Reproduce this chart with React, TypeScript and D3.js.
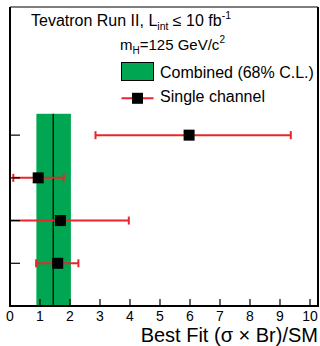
import React from "react";
import * as d3 from "d3";

const channels = ["H→bb", "H→ττ", "H→WW", "H→γγ"];
const centralValues = [1.59, 1.68, 0.94, 5.97];
const lowerValues = [0.87, 0.0, 0.11, 2.85];
const upperValues = [2.28, 3.96, 1.79, 9.36];
const combined = { center: 1.44, low: 0.88, high: 2.03 };
const xTicks = [0, 1, 2, 3, 4, 5, 6, 7, 8, 9, 10];

const W = 320;
const H = 346;
const left = 10;
const right = 318;
const top = 7;
const bottom = 306;

export default function App() {
  const x = d3.scaleLinear().domain([0, (right - left) / 30]).range([left, right]);
  const y = d3.scaleLinear().domain([0, 7]).range([bottom, top]);
  const font = "'Liberation Sans', Arial, Helvetica, sans-serif";
  const red = "#e8262b";
  const green = "#00a651";
  return (
    <svg width={W} height={H} style={{ position: "absolute", left: 0, top: 0 }} fontFamily={font}>
      <rect x={0} y={0} width={W} height={H} fill="#fff" />
      {/* combined band */}
      <rect x={x(combined.low)} y={y(4.5)} width={x(combined.high) - x(combined.low)} height={y(0) - y(4.5)} fill={green} />
      <line x1={x(combined.center)} x2={x(combined.center)} y1={y(4.5)} y2={y(0)} stroke="#000" strokeWidth={1.2} />
      {/* single channels */}
      {channels.map((c, i) => {
        const yy = y(i + 1);
        return (
          <g key={c}>
            <line x1={x(lowerValues[i])} x2={x(upperValues[i])} y1={yy} y2={yy} stroke={red} strokeWidth={2} />
            <line x1={x(lowerValues[i])} x2={x(lowerValues[i])} y1={yy - 4} y2={yy + 4} stroke={red} strokeWidth={2} />
            <line x1={x(upperValues[i])} x2={x(upperValues[i])} y1={yy - 4} y2={yy + 4} stroke={red} strokeWidth={2} />
            <rect x={x(centralValues[i]) - 5.5} y={yy - 5.5} width={11} height={11} fill="#000" />
          </g>
        );
      })}
      {/* y ticks */}
      {channels.map((c, i) => (
        <line key={"yt" + c} x1={left} x2={left + 10} y1={y(i + 1)} y2={y(i + 1)} stroke="#000" strokeWidth={1.2} />
      ))}
      {/* x ticks */}
      {xTicks.map((t) => (
        <g key={"xt" + t}>
          <line x1={x(t)} x2={x(t)} y1={bottom} y2={bottom - 7} stroke="#000" strokeWidth={1.2} />
          <text x={x(t)} y={321} fontSize={14} textAnchor="middle" fill="#000">{t}</text>
        </g>
      ))}
      {/* frame */}
      <line x1={left} x2={right} y1={top} y2={top} stroke="#000" strokeWidth={1} />
      <line x1={left} x2={left} y1={top} y2={bottom} stroke="#000" strokeWidth={2} />
      <line x1={right} x2={right} y1={top} y2={bottom} stroke="#000" strokeWidth={2} />
      <line x1={left - 1} x2={right + 1} y1={bottom} y2={bottom} stroke="#000" strokeWidth={2} />
      {/* title */}
      <text x={31} y={26} fontSize={16} fill="#000">
        Tevatron Run II, L<tspan fontSize={10.5} dy={4}>int</tspan>
        <tspan dy={-4}> ≤ 10 fb</tspan>
        <tspan fontSize={10.5} dy={-7}>-1</tspan>
      </text>
      <text x={120} y={50} fontSize={15} fill="#000">
        m<tspan fontSize={10} dy={4}>H</tspan>
        <tspan dy={-4}>=125 GeV/c</tspan>
        <tspan fontSize={10} dy={-7}>2</tspan>
      </text>
      {/* legend */}
      <rect x={121.5} y={62.5} width={32} height={18} fill={green} stroke="#000" strokeWidth={1} />
      <text x={160} y={78} fontSize={16} fill="#000">Combined (68% C.L.)</text>
      <line x1={121.5} x2={153.5} y1={98.3} y2={98.3} stroke={red} strokeWidth={2} />
      <rect x={132} y={92.8} width={11} height={11} fill="#000" />
      <text x={160} y={102} fontSize={16} fill="#000">Single channel</text>
      {/* axis label */}
      <text x={318} y={342} fontSize={20} textAnchor="end" fill="#000">Best Fit (σ × Br)/SM</text>
    </svg>
  );
}
